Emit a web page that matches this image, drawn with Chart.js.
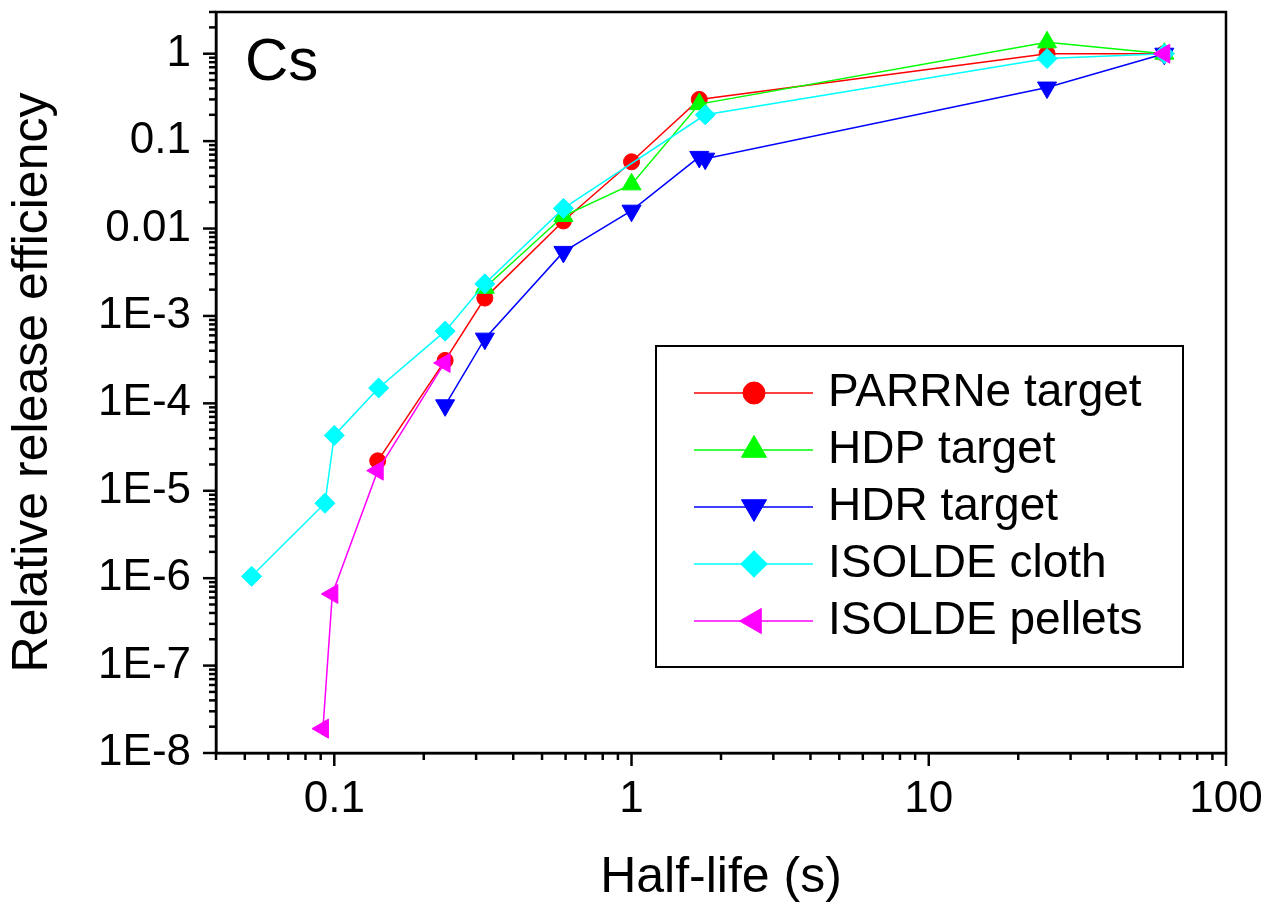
<!DOCTYPE html>
<html>
<head>
<meta charset="utf-8">
<script src="https://cdn.jsdelivr.net/npm/chart.js@4.4.1/dist/chart.umd.min.js"></script>
<style>
  html, body { margin: 0; padding: 0; background: #fff; }
  #wrap { width: 1278px; height: 912px; position: relative; }
</style>
</head>
<body>
<div id="wrap"><canvas id="myChart"></canvas></div>
<script>
// values: half-life (s) vs relative release efficiency
var seriesNames = ['PARRNe target', 'HDP target', 'HDR target', 'ISOLDE cloth', 'ISOLDE pellets'];

var parrneX = [0.14, 0.236, 0.321, 0.59, 1.0, 1.69, 25, 62];
var parrneY = [2.2e-5, 3.1e-4, 1.6e-3, 0.0122, 0.058, 0.30, 1.0, 1.0];

var hdpX = [0.321, 0.59, 1.0, 1.69, 25, 62];
var hdpY = [2.1e-3, 0.0139, 0.032, 0.265, 1.35, 1.0];

var hdrX = [0.236, 0.321, 0.59, 1.0, 1.69, 1.77, 25, 62];
var hdrY = [9.5e-5, 5.5e-4, 5.4e-3, 0.016, 0.066, 0.063, 0.41, 1.0];

var clothX = [0.0527, 0.093, 0.1, 0.141, 0.236, 0.321, 0.59, 1.77, 25, 62];
var clothY = [1.05e-6, 7.2e-6, 4.3e-5, 1.5e-4, 6.7e-4, 2.33e-3, 0.017, 0.2, 0.88, 1.0];

// the null breaks the line before the last point
var pelletsX = [0.0916, 0.0985, 0.14, 0.235, 1, 62];
var pelletsY = [1.9e-8, 6.6e-7, 1.7e-5, 2.9e-4, null, 1.0];

var xMajor = [0.1, 1, 10, 100];
var xTickLabels = ['0.1', '1', '10', '100'];
var yMajor = [1e-8, 1e-7, 1e-6, 1e-5, 1e-4, 1e-3, 0.01, 0.1, 1];
var yTickLabels = ['1E-8', '1E-7', '1E-6', '1E-5', '1E-4', '1E-3', '0.01', '0.1', '1'];

var FONT = "'Liberation Sans', Arial, sans-serif";

function pts(xs, ys) {
    return xs.map(function(x, i) { return {x: x, y: ys[i]}; });
}

function labelFor(majors, labels) {
    return function(v) {
        for (var i = 0; i < majors.length; i++) {
            if (Math.abs(Math.log10(v) - Math.log10(majors[i])) < 1e-6) return labels[i];
        }
        return null;
    };
}

function makeSet(i, xs, ys, color, style, rot, r, order) {
    return {
        label: seriesNames[i],
        data: pts(xs, ys),
        borderColor: color,
        backgroundColor: color,
        borderWidth: 1.5,
        pointStyle: style,
        pointRotation: rot,
        pointRadius: r,
        pointBorderWidth: 1,
        pointBorderColor: color,
        pointBackgroundColor: color,
        order: order,
        tension: 0
    };
}

// legend marker sizes (bigger than on the data)
var legendRadius = [11, 14.5, 14.5, 13.3, 14.5];

// frame, tick marks, legend and the "Cs" tag
var extras = {
    id: 'extras',
    afterDraw: function(chart) {
        var ctx = chart.ctx, a = chart.chartArea;
        ctx.save();
        ctx.strokeStyle = '#000';
        ctx.lineWidth = 2.5;
        ctx.strokeRect(a.left, a.top, a.right - a.left, a.bottom - a.top);

        ['x', 'y'].forEach(function(id) {
            var sc = chart.scales[id];
            var d0 = Math.floor(Math.log10(sc.min)), d1 = Math.ceil(Math.log10(sc.max));
            for (var d = d0; d <= d1; d++) {
                for (var k = 1; k <= 9; k++) {
                    var v = k * Math.pow(10, d);
                    if (v < sc.min * 0.999 || v > sc.max * 1.001) continue;
                    var len = k === 1 ? 13 : 7;
                    var p = sc.getPixelForValue(v);
                    ctx.beginPath();
                    if (id === 'x') { ctx.moveTo(p, a.bottom); ctx.lineTo(p, a.bottom + len); }
                    else { ctx.moveTo(a.left, p); ctx.lineTo(a.left - len, p); }
                    ctx.stroke();
                }
            }
        });

        // legend box
        ctx.lineWidth = 2;
        ctx.strokeRect(656, 346, 527, 321);
        ctx.font = '46px ' + FONT;
        ctx.textBaseline = 'middle';
        ctx.textAlign = 'left';
        chart.data.datasets.forEach(function(ds, i) {
            var y = 393 + i * 57;
            ctx.strokeStyle = ds.borderColor;
            ctx.lineWidth = 1.5;
            ctx.beginPath();
            ctx.moveTo(694, y);
            ctx.lineTo(813, y);
            ctx.stroke();
            ctx.fillStyle = ds.borderColor;
            ctx.lineWidth = 1;
            Chart.helpers.drawPoint(ctx, {
                pointStyle: ds.pointStyle,
                rotation: ds.pointRotation,
                radius: legendRadius[i],
                borderWidth: 1
            }, 754, y);
            ctx.fillStyle = '#000';
            ctx.fillText(ds.label, 828, y);
        });

        ctx.font = '60px ' + FONT;
        ctx.textBaseline = 'alphabetic';
        ctx.fillStyle = '#000';
        ctx.fillText('Cs', 245, 80);
        ctx.restore();
    }
};

var ctx = document.getElementById('myChart').getContext('2d');
var myChart = new Chart(ctx, {
    type: 'line',
    data: {
        datasets: [
            makeSet(0, parrneX, parrneY, '#ff0000', 'circle', 0, 8, 5),
            makeSet(1, hdpX, hdpY, '#00ff00', 'triangle', 0, 11, 4),
            makeSet(2, hdrX, hdrY, '#0000ff', 'triangle', 180, 11, 3),
            makeSet(3, clothX, clothY, '#00ffff', 'rectRot', 0, 10, 2),
            makeSet(4, pelletsX, pelletsY, '#ff00ff', 'triangle', -90, 11, 1)
        ]
    },
    options: {
        responsive: true,
        maintainAspectRatio: false,
        animation: false,
        events: [],
        layout: { padding: { top: 12, right: 52, left: 0, bottom: 0 } },
        plugins: {
            legend: { display: false },
            tooltip: { enabled: false }
        },
        scales: {
            x: {
                type: 'logarithmic',
                min: 0.04,
                max: 100,
                border: { display: true, color: '#000', width: 2.5 },
                grid: { display: true, drawOnChartArea: false, drawTicks: true, tickLength: 13, tickColor: 'rgba(0,0,0,0)' },
                ticks: {
                    autoSkip: false, maxRotation: 0, minRotation: 0, padding: 7,
                    color: '#000', font: { family: FONT, size: 44 },
                    callback: labelFor(xMajor, xTickLabels)
                },
                title: {
                    display: true, text: 'Half-life (s)', color: '#000',
                    font: { family: FONT, size: 50 }, padding: { top: 0, bottom: 4 }
                },
                afterFit: function(s) { s.height = 159; s.paddingLeft = 0; s.paddingRight = 0; }
            },
            y: {
                type: 'logarithmic',
                min: 1e-8,
                max: 3,
                border: { display: true, color: '#000', width: 2.5 },
                grid: { display: true, drawOnChartArea: false, drawTicks: true, tickLength: 13, tickColor: 'rgba(0,0,0,0)' },
                ticks: {
                    autoSkip: false, padding: 12,
                    color: '#000', font: { family: FONT, size: 44 },
                    callback: labelFor(yMajor, yTickLabels)
                },
                title: {
                    display: true, text: 'Relative release efficiency', color: '#000',
                    font: { family: FONT, size: 50 }, padding: { top: 3, bottom: 0 }
                },
                afterFit: function(s) { s.width = 216; s.paddingTop = 0; s.paddingBottom = 0; }
            }
        }
    },
    plugins: [extras]
});
</script>
</body>
</html>
